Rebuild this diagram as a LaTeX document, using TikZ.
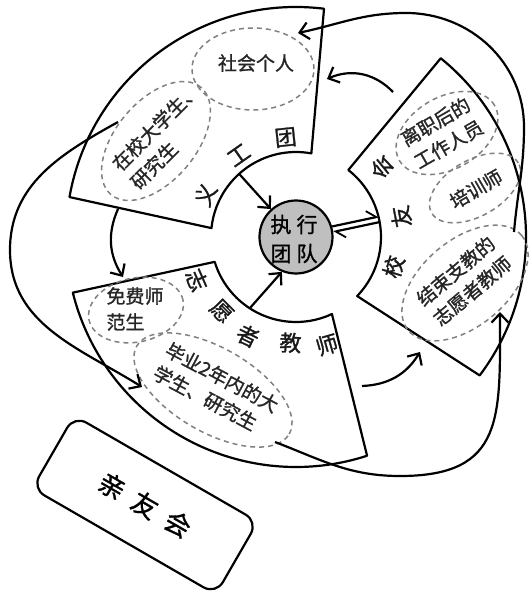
\documentclass[tikz,border=0pt]{standalone}
\usepackage{fontspec}
\setmainfont{Noto Sans CJK SC}[FakeBold=1.2]
\usetikzlibrary{arrows.meta,calc,shapes.geometric}
\begin{document}
\begin{tikzpicture}[x=1pt,y=1pt,
  line width=2.2pt, line join=round,
  tip/.style={-{Straight Barb[length=9pt,width=17pt,line width=2.2pt]}},
  harp/.style={-{Straight Barb[harpoon,length=9pt,width=16pt,line width=1.8pt]}},
  oval/.style={draw=black!50, line width=1.5pt, dash pattern=on 5pt off 4pt, ellipse, inner sep=0pt},
  seclab/.style={font=\fontsize{22}{22}\selectfont, inner sep=0pt, text=black!90},
  otext/.style={font=\fontsize{19}{26}\selectfont, inner sep=0pt, align=left, text=black!85},
  ]
\useasboundingbox (-296,-363) rectangle (232,237);
% sectors
\draw (79.6:85) -- (83:230) arc[start angle=83, end angle=170, radius=230] -- (174:85) arc[start angle=174, end angle=79.6, radius=85] -- cycle;
\draw (197:85) -- (194:230) arc[start angle=194, end angle=288, radius=230] -- (295:85) arc[start angle=295, end angle=197, radius=85] -- cycle;
\draw (-44:85) -- (-37:230) arc[start angle=-37, end angle=51, radius=230] -- (52:85) arc[start angle=52, end angle=-44, radius=85] -- cycle;
% centre
\node[circle, draw, fill=black!25, minimum size=73pt, inner sep=0pt] (circ) at (0,0) {};
\node[font=\fontsize{21}{29}\selectfont, align=center, inner sep=0pt] (ctext) at (-2,-2) {执\hspace{5pt}行\\团\hspace{5pt}队};
% sector labels
\node[seclab, rotate=65] (l1a) at (155:100) {义};
\node[seclab, rotate=35] (l1b) at (125:100) {工};
\node[seclab, rotate=6] (l1c) at (96:100) {团};
\node[seclab, rotate=-66.5] (l2a) at (203.5:108) {志};
\node[seclab, rotate=-45] (l2b) at (225:105) {愿};
\node[seclab, rotate=-26] (l2c) at (244:110) {者};
\node[seclab, rotate=-3] (l2d) at (267:106) {教};
\node[seclab, rotate=16] (l2e) at (286:112) {师};
\node[seclab, rotate=73] (l3a) at (-17:102) {校};
\node[seclab, rotate=101] (l3b) at (11:107) {友};
\node[seclab, rotate=129] (l3c) at (39:110) {会};
% ellipses
\node[oval, minimum width=122pt, minimum height=82pt] (e1) at (-43,168) {};
\node[otext] (t1) at (-40,174) {社会个人};
\node[oval, minimum width=140pt, minimum height=80pt, rotate=50] (e2) at (-140,96) {};
\node[otext, rotate=45] (t2) at (-131,101) {在校大学生、\\研究生};
\node[oval, minimum width=96pt, minimum height=64pt, rotate=12] (e3) at (-160,-73) {};
\node[otext] (t3) at (-161,-72) {免费师\\范生};
\node[oval, minimum width=176pt, minimum height=84pt, rotate=-30] (e4) at (-83,-153) {};
\node[otext, rotate=-28] (t4) at (-80,-152) {毕业2年内的大\\学生、研究生};
\node[oval, minimum width=110pt, minimum height=72pt, rotate=30] (e5) at (151,104) {};
\node[otext, rotate=30] (t5) at (146,104) {离职后的\\工作人员};
\node[oval, minimum width=100pt, minimum height=56pt, rotate=30] (e6) at (179,49) {};
\node[otext, rotate=30] (t6) at (180,48) {培训师};
\node[oval, minimum width=148pt, minimum height=86pt, rotate=40] (e7) at (169,-46) {};
\node[otext, rotate=40] (t7) at (168,-44) {结束支教的\\志愿者教师};
% arrows into centre
\coordinate (s1a) at (132:85);
\coordinate (s2a) at (-46,-71);
\draw[tip] (s1a) -- (circ);
\draw[tip] (s2a) -- (circ.248);
\coordinate (s3a) at (12:85);
\draw[harp] ($(circ.12)+(102:2.8)$) -- ($(s3a)+(102:2.8)$);
\draw[harp] ($(s3a)+(-78:2.8)$) -- ($(circ.12)+(-78:2.8)$);
% arrows between sectors
\coordinate (a1s) at (-178,28); \coordinate (a1e) at (-173,-40);
\draw[tip] (a1s) to[bend right=28] (a1e);
\coordinate (a2s) at (66,-149); \coordinate (a2e) at (124,-115);
\draw[tip] (a2s) to[bend right=28] (a2e);
\coordinate (a3s) at (97,145); \coordinate (a3e) at (31,158);
\draw[tip] (a3s) to[bend right=35] (a3e);
% big loops
\coordinate (lc0) at (-178,115); \coordinate (lc1) at (-286,-13); \coordinate (lc2) at (-154,-150);
\draw[tip] (lc0) to[out=209,in=90] (lc1) to[out=270,in=148] (lc2);
\coordinate (la0) at (218,5); \coordinate (la1) at (228,110); \coordinate (la2) at (110,224); \coordinate (la3) at (2,204);
\draw[tip] (la0) to[out=85,in=270] (la1) to[out=90,in=0] (la2) to[out=180,in=12] (la3);
\coordinate (lb0) at (-21,-205); \coordinate (lb1) at (104,-239); \coordinate (lb2) at (204,-75);
\draw[tip] (lb0) to[out=-21,in=180] (lb1) to[out=0,in=-90,looseness=1.4] (lb2);
% alumni box
\node[draw, rounded corners=14pt, minimum width=212pt, minimum height=84pt, rotate=-30, font=\fontsize{26}{26}\selectfont] (qyh) at (-151,-268) {亲\hspace{12pt}友\hspace{12pt}会};
\end{tikzpicture}
\end{document}
